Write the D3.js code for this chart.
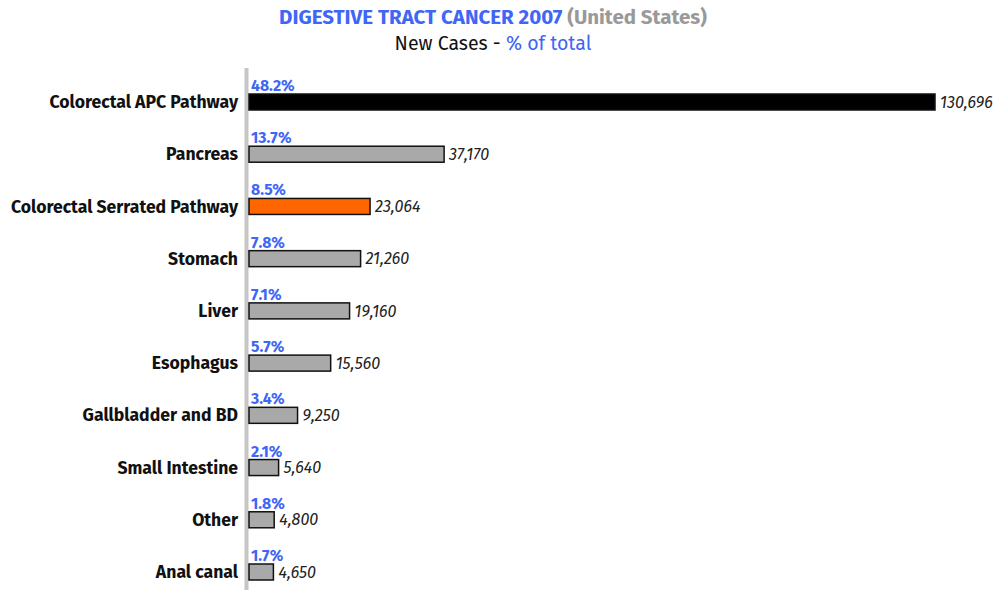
<!DOCTYPE html>
<html>
<head>
<meta charset="utf-8">
<script src="https://cdn.jsdelivr.net/npm/d3@7"></script>
<style>
  body { margin: 0; background: #fff; }
  svg text { font-family: "Fira Sans", "Open Sans", "Noto Sans", sans-serif; }
</style>
</head>
<body>
<svg id="chart" width="996" height="590"></svg>
<script>
// data
var categories = ["Colorectal APC Pathway", "Pancreas", "Colorectal Serrated Pathway", "Stomach", "Liver",
                  "Esophagus", "Gallbladder and BD", "Small Intestine", "Other", "Anal canal"]
var newCases = [130696, 37170, 23064, 21260, 19160, 15560, 9250, 5640, 4800, 4650]
var percents = ["48.2%", "13.7%", "8.5%", "7.8%", "7.1%", "5.7%", "3.4%", "2.1%", "1.8%", "1.7%"]
var barColors = ["#000000", "#a9a9a9", "#ff6600", "#a9a9a9", "#a9a9a9", "#a9a9a9", "#a9a9a9", "#a9a9a9", "#a9a9a9", "#a9a9a9"]

var blue = "#3f66f5"
var svg = d3.select("#chart")
var x0 = 249
var barH = 16

var xScale = d3.scaleLinear().domain([0, 130696]).range([x0, 935])
var yScale = d3.scalePoint().domain(categories).range([102, 572])

// title
var title = svg.append("text")
    .attr("x", 493).attr("y", 24)
    .attr("text-anchor", "middle")
    .attr("font-size", "20.5px").attr("font-weight", "bold")
title.append("tspan").attr("fill", blue).text("DIGESTIVE TRACT CANCER 2007 ")
title.append("tspan").attr("fill", "#999").text("(United States)")

var sub = svg.append("text")
    .attr("x", 493).attr("y", 50)
    .attr("text-anchor", "middle")
    .attr("font-size", "19.5px")
sub.append("tspan").attr("fill", "#111").text("New Cases - ")
sub.append("tspan").attr("fill", blue).text("% of total")

// vertical axis line
svg.append("line")
    .attr("x1", 246.5).attr("x2", 246.5)
    .attr("y1", 68).attr("y2", 590)
    .attr("stroke", "#c6c6c6").attr("stroke-width", 4)

var rows = svg.selectAll("g.row")
    .data(categories)
    .enter().append("g")
    .attr("class", "row")

rows.append("rect")
    .attr("x", x0)
    .attr("y", function (d) { return yScale(d) - barH / 2 })
    .attr("width", function (d, i) { return xScale(newCases[i]) - x0 })
    .attr("height", barH)
    .attr("fill", function (d, i) { return barColors[i] })
    .attr("stroke", "#111")
    .attr("stroke-width", 1.5)

rows.append("text")
    .attr("x", 238)
    .attr("y", function (d) { return yScale(d) })
    .attr("dy", "0.35em")
    .attr("text-anchor", "end")
    .attr("font-size", "17.6px").attr("font-weight", "bold")
    .attr("fill", "#111")
    .text(function (d) { return d })

rows.append("text")
    .attr("x", 251)
    .attr("y", function (d) { return yScale(d) - 11 })
    .attr("font-size", "15.8px").attr("font-weight", "bold")
    .attr("fill", blue)
    .text(function (d, i) { return percents[i] })

rows.append("text")
    .attr("x", function (d, i) { return xScale(newCases[i]) + 5 })
    .attr("y", function (d) { return yScale(d) })
    .attr("dy", "0.35em")
    .attr("font-size", "16.2px").attr("font-style", "italic")
    .attr("fill", "#222")
    .text(function (d, i) { return d3.format(",")(newCases[i]) })
</script>
</body>
</html>
